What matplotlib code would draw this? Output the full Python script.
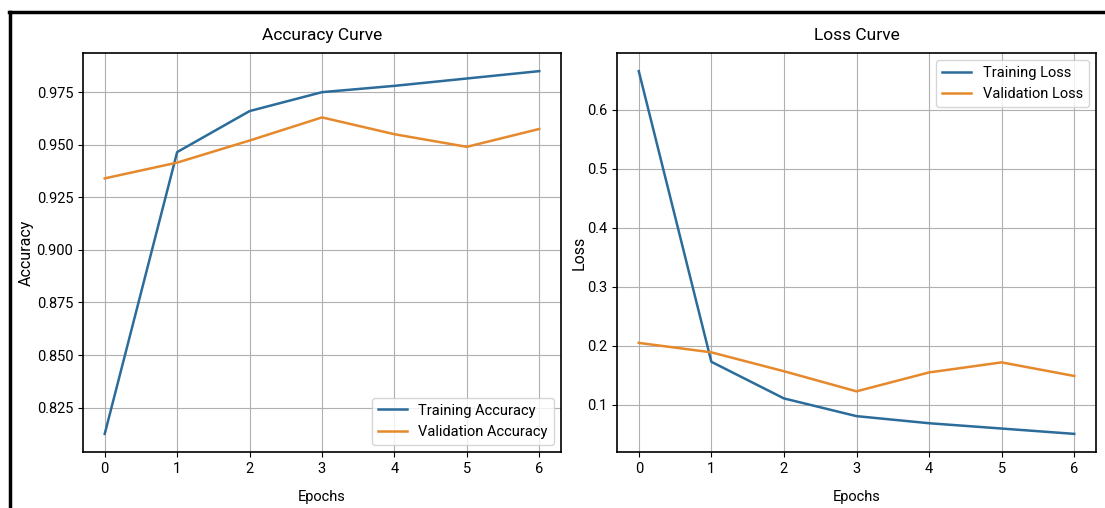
import matplotlib
matplotlib.use("Agg")
import matplotlib.pyplot as plt
from matplotlib.lines import Line2D

epochs = [0, 1, 2, 3, 4, 5, 6]
train_acc = [0.8125, 0.9465, 0.966, 0.975, 0.978, 0.9815, 0.985]
val_acc = [0.934, 0.9415, 0.952, 0.963, 0.955, 0.949, 0.9575]
train_loss = [0.665, 0.173, 0.111, 0.081, 0.069, 0.060, 0.051]
val_loss = [0.205, 0.189, 0.157, 0.123, 0.155, 0.172, 0.149]

BLUE = '#2b6c9a'
ORANGE = '#e5892c'

plt.rcParams['font.family'] = ['Roboto', 'DejaVu Sans']
plt.rcParams['font.size'] = 10

fig = plt.figure(figsize=(11.05, 5.08), dpi=100)
W, H = 1105, 508
def rect(x0, y0, x1, y1):
    return [x0 / W, 1 - y1 / H, (x1 - x0) / W, (y1 - y0) / H]

ax1 = fig.add_axes(rect(83, 53, 561, 452))
ax2 = fig.add_axes(rect(617, 53, 1096, 452))

ax1.plot(epochs, train_acc, color=BLUE, lw=1.8, label='Training Accuracy')
ax1.plot(epochs, val_acc, color=ORANGE, lw=1.8, label='Validation Accuracy')
ax1.set_title('Accuracy Curve', fontsize=12.5, pad=9)
ax1.set_xlabel('Epochs', fontsize=10.5, labelpad=10)
ax1.set_ylabel('Accuracy', fontsize=11.5)
ax1.yaxis.set_label_coords(-0.102, 0.5)
ax1.set_yticks([0.825, 0.85, 0.875, 0.9, 0.925, 0.95, 0.975])
ax1.legend(loc='lower right', fontsize=10.5)
ax1.grid(True)

ax2.plot(epochs, train_loss, color=BLUE, lw=1.8, label='Training Loss')
ax2.plot(epochs, val_loss, color=ORANGE, lw=1.8, label='Validation Loss')
ax2.set_title('Loss Curve', fontsize=12.5, pad=9)
ax2.set_xlabel('Epochs', fontsize=10.5, labelpad=10)
ax2.set_ylabel('Loss', fontsize=11.5)
ax2.yaxis.set_label_coords(-0.063, 0.5)
ax2.legend(loc='upper right', fontsize=10.5)
ax2.grid(True)

for ax in (ax1, ax2):
    ax.set_xticks(epochs)
    ax.tick_params(labelsize=10.5)
    for s in ax.spines.values():
        s.set_linewidth(1.2)

# frame lines (top and left) of the original screenshot
fig.add_artist(Line2D([9 / W, 1], [1 - 12 / H, 1 - 12 / H], color='black', lw=2.5, transform=fig.transFigure))
fig.add_artist(Line2D([10 / W, 10 / W], [0, 1 - 12 / H], color='black', lw=2.5, transform=fig.transFigure))

fig.savefig('out.png', dpi=100)
